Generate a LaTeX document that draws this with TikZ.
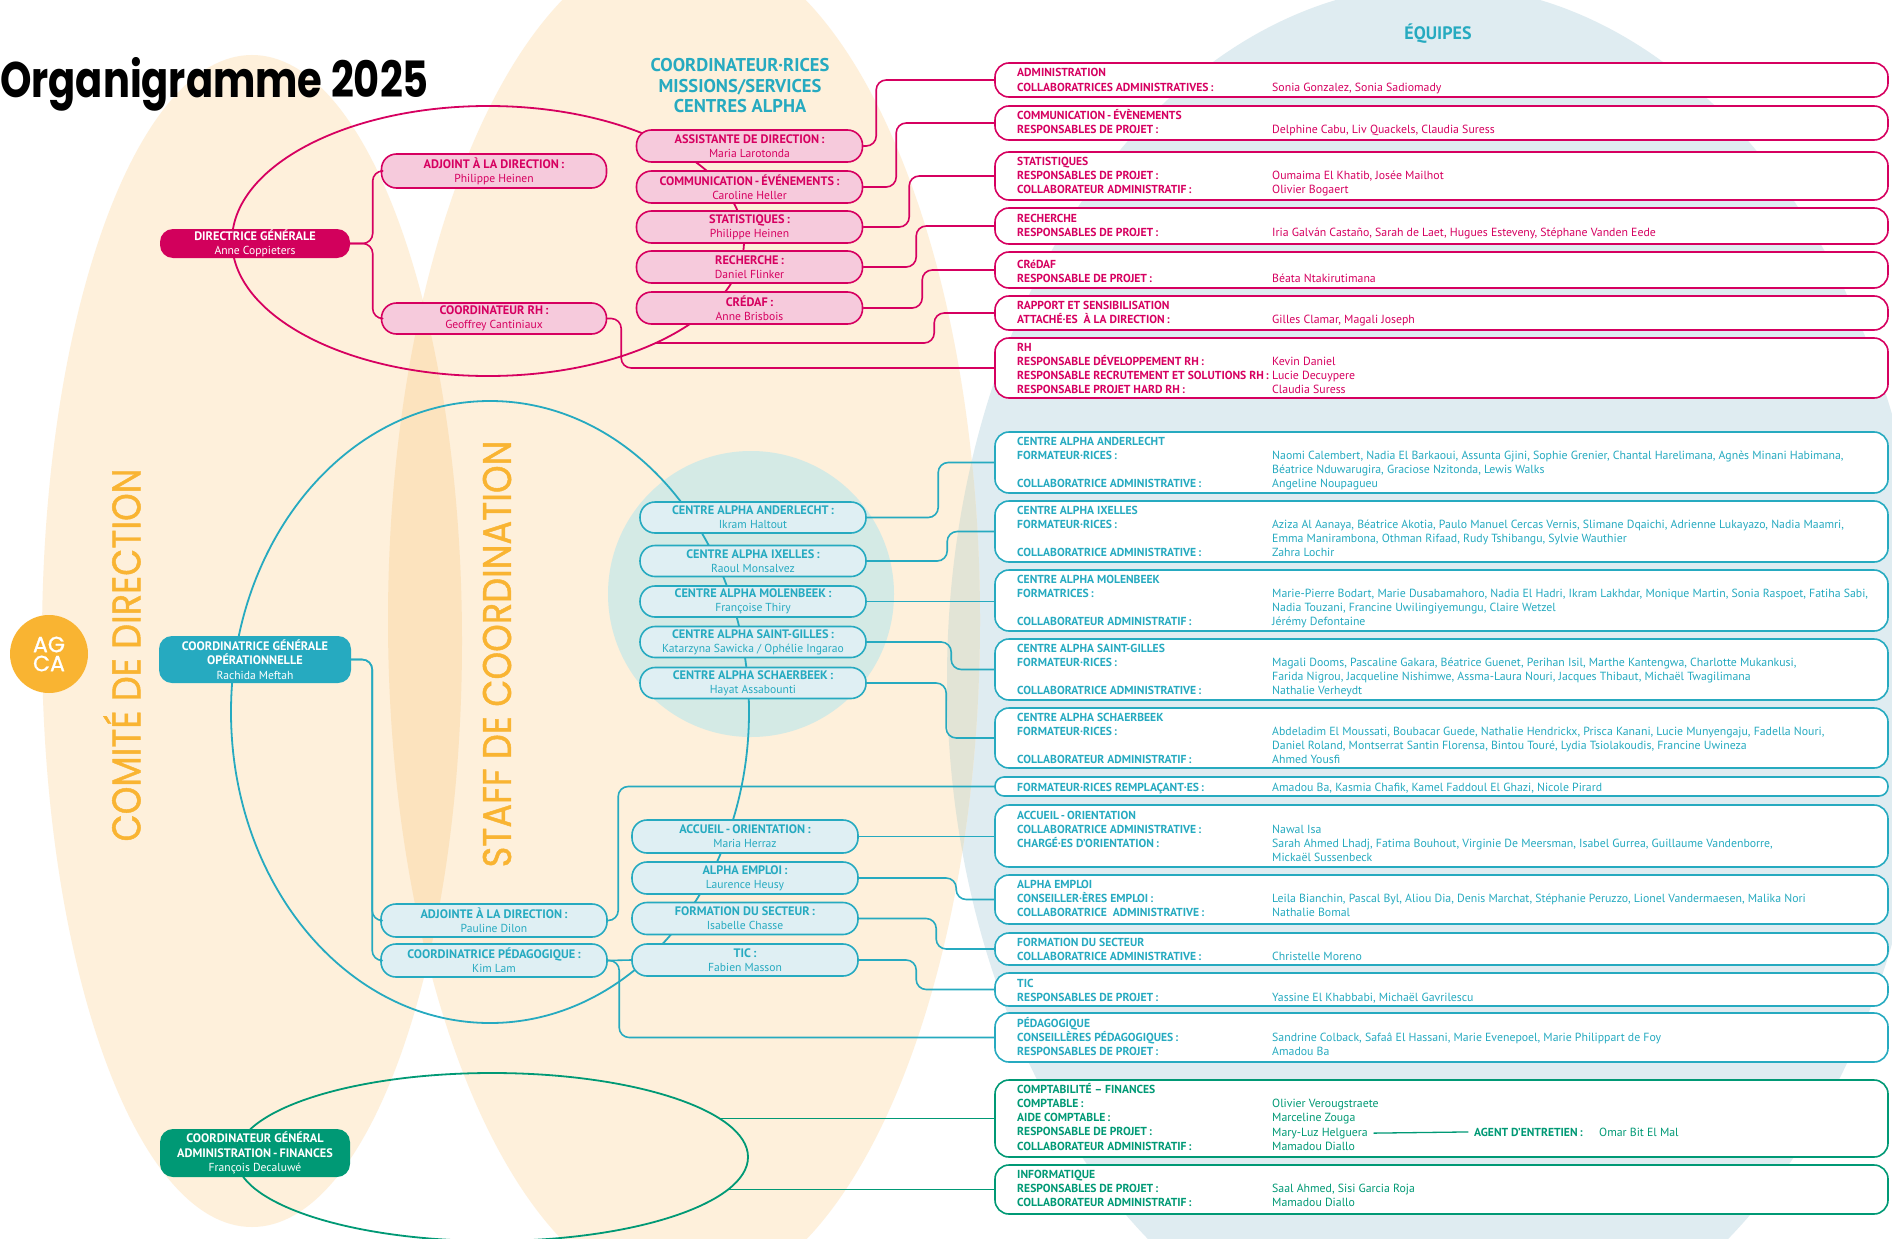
\documentclass[tikz,border=0pt]{standalone}
\usepackage{fontspec}
\usepackage{array}
\usepackage{graphicx}
\setmainfont{PT Sans}
\newfontfamily\popfont{Poppins}
\newfontfamily\popfontb{Poppins}[FakeBold=1.2]
\usetikzlibrary{calc}
\definecolor{mag}{RGB}{214,0,96}
\definecolor{magdark}{RGB}{210,0,92}
\definecolor{pinkfill}{RGB}{246,202,220}
\definecolor{tealc}{RGB}{38,170,192}
\definecolor{tealfill}{RGB}{223,239,243}
\definecolor{greenc}{RGB}{0,153,117}
\definecolor{orangec}{RGB}{249,180,50}
\definecolor{beige}{RGB}{254,240,219}
\definecolor{beigetwo}{RGB}{252,227,190}
\definecolor{bluebg}{RGB}{223,236,241}
\definecolor{overlapc}{RGB}{226,228,214}
\definecolor{mint}{RGB}{212,234,229}
\newcolumntype{L}{>{\fontsize{11.6}{14.3}\selectfont\bfseries}w{l}{255pt}}
\newcolumntype{N}{>{\fontsize{11.8}{14.3}\selectfont}l}
\newcommand{\tabx}[1]{\begin{tabular}[t]{@{}L@{}N@{}}#1\end{tabular}}
\newcommand{\lbl}[1]{{\fontsize{12.3}{14}\selectfont\bfseries #1}}
\begin{document}
\begin{tikzpicture}[x=1pt,y=-1pt,line cap=round,line join=round,
  midn/.style={draw=#1, line width=1.6, rounded corners=15, minimum width=226, minimum height=32, inner sep=0, align=center, text=#1, font=\fontsize{11.6}{14}\selectfont},
  topn/.style={rounded corners=13, minimum width=190, inner sep=0, align=center, text=white, font=\fontsize{11.6}{14.5}\selectfont},
  teamb/.style={draw=#1, fill=white, line width=1.6, rounded corners=14, minimum width=893, inner sep=0},
  tt/.style={anchor=base west, inner sep=0, text=#1, font=\fontsize{11}{14.3}\selectfont},
  conn/.style={draw=#1, line width=1.6, rounded corners=10},
  ell/.style={draw=#1, line width=1.8}]
\useasboundingbox (0,0) rectangle (1892,1239);
\fill[white] (0,0) rectangle (1892,1239);
% backgrounds
\fill[bluebg] (1438,679) ellipse [x radius=491, y radius=694];
\fill[beige] (252,641) ellipse [x radius=210, y radius=586];
\fill[beige] (684,620) ellipse [x radius=296, y radius=680];
\begin{scope}
\clip (252,641) ellipse [x radius=210, y radius=586];
\fill[beigetwo] (684,620) ellipse [x radius=296, y radius=680];
\end{scope}
\begin{scope}
\clip (684,620) ellipse [x radius=296, y radius=680];
\fill[overlapc] (1438,679) ellipse [x radius=491, y radius=694];
\end{scope}
\fill[mint] (751,594) circle [radius=143];
% titles
\node[anchor=base west, inner sep=0] (title) at (0,97) {\scalebox{0.8}[1]{\popfont\bfseries\fontsize{50}{55}\selectfont Organigramme 2025}};
\node[text=tealc, align=center, font=\fontsize{18.5}{20.5}\selectfont\bfseries] (hdr) at (740,86) {COORDINATEUR·RICES\\MISSIONS/SERVICES\\CENTRES ALPHA};
\node[text=tealc, font=\fontsize{18}{20}\selectfont\bfseries] (equipes) at (1438,34) {ÉQUIPES};
\node[rotate=90, text=orangec, inner sep=0, font=\popfontb\fontsize{40}{40}\selectfont] (comite) at (122,655) {\scalebox{0.88}[1]{COMITÉ DE DIRECTION}};
\node[rotate=90, text=orangec, inner sep=0, font=\popfontb\fontsize{40}{40}\selectfont] (staff) at (497,654) {\scalebox{0.88}[1]{STAFF DE COORDINATION}};
\node[circle, fill=orangec, minimum size=78, inner sep=0, text=white, align=center, font=\popfontb\fontsize{22}{19}\selectfont] (agca) at (49,654) {AG\\CA};
% group ellipses
\draw[ell=mag] (488,241) ellipse [x radius=256, y radius=135];
\draw[ell=tealc] (490,712) ellipse [x radius=259, y radius=311];
\draw[ell=greenc] (492,1157) ellipse [x radius=256, y radius=84];
\coordinate (pe) at (656,343);
\coordinate (ge1) at (719.5,1118.5);
\coordinate (ge2) at (728,1189.5);
% team boxes
\node[teamb=mag, minimum height=34] (tAdmin) at (1441.5,80) {};
\node[teamb=mag, minimum height=34] (tComm) at (1441.5,123) {};
\node[teamb=mag, minimum height=48] (tStat) at (1441.5,176) {};
\node[teamb=mag, minimum height=36] (tRech) at (1441.5,226) {};
\node[teamb=mag, minimum height=36] (tCred) at (1441.5,270) {};
\node[teamb=mag, minimum height=34] (tRap) at (1441.5,313) {};
\node[teamb=mag, minimum height=60] (tRH) at (1441.5,368) {};
\node[teamb=tealc, minimum height=61] (tAnd) at (1441.5,462.5) {};
\node[teamb=tealc, minimum height=61] (tIx) at (1441.5,531.5) {};
\node[teamb=tealc, minimum height=61] (tMol) at (1441.5,600.5) {};
\node[teamb=tealc, minimum height=61] (tSG) at (1441.5,669.5) {};
\node[teamb=tealc, minimum height=60] (tSch) at (1441.5,738) {};
\node[teamb=tealc, minimum height=19, rounded corners=9] (tRem) at (1441.5,786.5) {};
\node[teamb=tealc, minimum height=62] (tAcc) at (1441.5,836) {};
\node[teamb=tealc, minimum height=49] (tEmp) at (1441.5,899.5) {};
\node[teamb=tealc, minimum height=32] (tForm) at (1441.5,949) {};
\node[teamb=tealc, minimum height=33] (tTic) at (1441.5,989.5) {};
\node[teamb=tealc, minimum height=49] (tPed) at (1441.5,1037.5) {};
\node[teamb=greenc, minimum height=77] (tCompta) at (1441.5,1118.5) {};
\node[teamb=greenc, minimum height=49] (tInfo) at (1441.5,1189.5) {};
% nodes
\node[topn, fill=magdark, minimum height=29] (dg) at (255,243.5) {\lbl{DIRECTRICE GÉNÉRALE}\\Anne Coppieters};
\node[midn=mag, fill=pinkfill, minimum width=225, minimum height=34] (adj) at (494,171) {\lbl{ADJOINT À LA DIRECTION\,:}\\Philippe Heinen};
\node[midn=mag, fill=pinkfill, minimum width=225, minimum height=31] (crh) at (494,318.5) {\lbl{COORDINATEUR RH\,:}\\Geoffrey Cantiniaux};
\node[midn=mag, fill=pinkfill] (assist) at (749.5,146) {\lbl{ASSISTANTE DE DIRECTION\,:}\\Maria Larotonda};
\node[midn=mag, fill=pinkfill] (comm) at (749.5,187) {\lbl{COMMUNICATION\,-\,ÉVÉNEMENTS\,:}\\Caroline Heller};
\node[midn=mag, fill=pinkfill] (stat) at (749.5,227) {\lbl{STATISTIQUES\,:}\\Philippe Heinen};
\node[midn=mag, fill=pinkfill] (rech) at (749.5,267) {\lbl{RECHERCHE\,:}\\Daniel Flinker};
\node[midn=mag, fill=pinkfill] (cred) at (749.5,308) {\lbl{CRÉDAF\,:}\\Anne Brisbois};
\node[topn, fill=tealc, minimum width=192, minimum height=47] (cgo) at (255,659.5) {\lbl{COORDINATRICE GÉNÉRALE}\\\lbl{OPÉRATIONNELLE}\\Rachida Meftah};
\node[midn=tealc, fill=tealfill, minimum height=33] (adjte) at (494,920.5) {\lbl{ADJOINTE À LA DIRECTION\,:}\\Pauline Dilon};
\node[midn=tealc, fill=tealfill, minimum height=33] (cped) at (494,960.5) {\lbl{COORDINATRICE PÉDAGOGIQUE\,:}\\Kim Lam};
\node[midn=tealc, fill=tealfill, minimum height=31] (cAnd) at (753,517.5) {\lbl{CENTRE ALPHA ANDERLECHT\,:}\\Ikram Haltout};
\node[midn=tealc, fill=tealfill, minimum height=31] (cIx) at (753,561) {\lbl{CENTRE ALPHA IXELLES\,:}\\Raoul Monsalvez};
\node[midn=tealc, fill=tealfill, minimum height=31] (cMol) at (753,601.5) {\lbl{CENTRE ALPHA MOLENBEEK\,:}\\Françoise Thiry};
\node[midn=tealc, fill=tealfill, minimum height=31] (cSG) at (753,642) {\lbl{CENTRE ALPHA SAINT-GILLES\,:}\\Katarzyna Sawicka / Ophélie Ingarao};
\node[midn=tealc, fill=tealfill, minimum height=31] (cSch) at (753,683) {\lbl{CENTRE ALPHA SCHAERBEEK\,:}\\Hayat Assabounti};
\node[midn=tealc, fill=tealfill, minimum height=33] (acc) at (745,836.5) {\lbl{ACCUEIL\,-\,ORIENTATION\,:}\\Maria Herraz};
\node[midn=tealc, fill=tealfill, minimum height=32] (emp) at (745,878) {\lbl{ALPHA EMPLOI\,:}\\Laurence Heusy};
\node[midn=tealc, fill=tealfill, minimum height=32] (form) at (745,918.5) {\lbl{FORMATION DU SECTEUR\,:}\\Isabelle Chasse};
\node[midn=tealc, fill=tealfill, minimum height=32] (tic) at (745,960) {\lbl{TIC\,:}\\Fabien Masson};
\node[topn, fill=greenc, minimum height=48] (cgaf) at (255,1153) {\lbl{COORDINATEUR GÉNÉRAL}\\\lbl{ADMINISTRATION\,-\,FINANCES}\\François Decaluwé};
% connectors pink
\draw[conn=mag] (dg.east) -| ([xshift=-8]adj.west) -- (adj.west);
\draw[conn=mag] (dg.east) -| ([xshift=-8]crh.west) -- (crh.west);
\draw[conn=mag] (assist.east) -| ([xshift=-118]tAdmin.west) -- (tAdmin.west);
\draw[conn=mag] (comm.east) -| ([xshift=-98]tComm.west) -- (tComm.west);
\draw[conn=mag] (stat.east) -| ([xshift=-85]tStat.west) -- (tStat.west);
\draw[conn=mag] (rech.east) -| ([xshift=-78]tRech.west) -- (tRech.west);
\draw[conn=mag] (cred.east) -| ([xshift=-72]tCred.west) -- (tCred.west);
\draw[conn=mag] (pe) -| ([xshift=-60]tRap.west) -- (tRap.west);
\draw[conn=mag] (crh.east) -| ([xshift=-373]tRH.west) -- (tRH.west);
% connectors teal
\draw[conn=tealc] (cgo.east) -| ([xshift=-8]adjte.west) -- (adjte.west);
\draw[conn=tealc] (cgo.east) -| ([xshift=-8]cped.west) -- (cped.west);
\draw[conn=tealc] (cAnd.east) -| ([xshift=-56]tAnd.west) -- (tAnd.west);
\draw[conn=tealc] (cIx.east) -| ([xshift=-47]tIx.west) -- (tIx.west);
\draw[conn=tealc] (cMol.east) -- (cMol.east -| tMol.west);
\draw[conn=tealc] (cSG.east) -| ([xshift=-43]tSG.west) -- (tSG.west);
\draw[conn=tealc] (cSch.east) -| ([xshift=-48]tSch.west) -- (tSch.west);
\draw[conn=tealc] (adjte.east) -| ([xshift=-376]tRem.west) -- (tRem.west);
\draw[conn=tealc] (acc.east) -- (acc.east -| tAcc.west);
\draw[conn=tealc] (emp.east) -| ([xshift=-38]tEmp.west) -- (tEmp.west);
\draw[conn=tealc] (form.east) -| ([xshift=-58]tForm.west) -- (tForm.west);
\draw[conn=tealc] (tic.east) -| ([xshift=-78]tTic.west) -- (tTic.west);
\draw[conn=tealc] (cped.east) -- (tic.west);
\draw[conn=tealc] (cped.east) -| ([xshift=-375]tPed.west) -- (tPed.west);
% connectors green
\draw[conn=greenc] (ge1) -- (ge1 -| tCompta.west);
\draw[conn=greenc] (ge2) -- (ge2 -| tInfo.west);
% team texts pink
\node[tt=mag] (xAdmin) at (1017,77) {\tabx{ADMINISTRATION\\COLLABORATRICES ADMINISTRATIVES\,: & Sonia Gonzalez, Sonia Sadiomady}};
\node[tt=mag] (xComm) at (1017,119) {\tabx{COMMUNICATION\,-\,ÉVÈNEMENTS\\RESPONSABLES DE PROJET\,: & Delphine Cabu, Liv Quackels, Claudia Suress}};
\node[tt=mag] (xStat) at (1017,165) {\tabx{STATISTIQUES\\RESPONSABLES DE PROJET\,: & Oumaima El Khatib, Josée Mailhot\\COLLABORATEUR ADMINISTRATIF\,: & Olivier Bogaert}};
\node[tt=mag] (xRech) at (1017,222) {\tabx{RECHERCHE\\RESPONSABLES DE PROJET\,: & Iria Galván Castaño, Sarah de Laet, Hugues Esteveny, Stéphane Vanden Eede}};
\node[tt=mag] (xCred) at (1017,268) {\tabx{CRéDAF\\RESPONSABLE DE PROJET\,: & Béata Ntakirutimana}};
\node[tt=mag] (xRap) at (1017,309) {\tabx{RAPPORT ET SENSIBILISATION\\ATTACHÉ·ES\ \ À LA DIRECTION\,: & Gilles Clamar, Magali Joseph}};
\node[tt=mag] (xRH) at (1017,351) {\tabx{RH\\RESPONSABLE DÉVELOPPEMENT RH\,: & Kevin Daniel\\RESPONSABLE RECRUTEMENT ET SOLUTIONS RH\,: & Lucie Decuypere\\RESPONSABLE PROJET HARD RH\,: & Claudia Suress}};
% team texts teal
\node[tt=tealc] (xAnd) at (1017,445) {\tabx{CENTRE ALPHA ANDERLECHT\\FORMATEUR·RICES\,: & Naomi Calembert, Nadia El Barkaoui, Assunta Gjini, Sophie Grenier, Chantal Harelimana, Agnès Minani Habimana,\\ & Béatrice Nduwarugira, Graciose Nzitonda, Lewis Walks\\COLLABORATRICE ADMINISTRATIVE\,: & Angeline Noupagueu}};
\node[tt=tealc] (xIx) at (1017,514) {\tabx{CENTRE ALPHA IXELLES\\FORMATEUR·RICES\,: & Aziza Al Aanaya, Béatrice Akotia, Paulo Manuel Cercas Vernis, Slimane Dqaichi, Adrienne Lukayazo, Nadia Maamri,\\ & Emma Manirambona, Othman Rifaad, Rudy Tshibangu, Sylvie Wauthier\\COLLABORATRICE ADMINISTRATIVE\,: & Zahra Lochir}};
\node[tt=tealc] (xMol) at (1017,583) {\tabx{CENTRE ALPHA MOLENBEEK\\FORMATRICES\,: & Marie-Pierre Bodart, Marie Dusabamahoro, Nadia El Hadri, Ikram Lakhdar, Monique Martin, Sonia Raspoet, Fatiha Sabi,\\ & Nadia Touzani, Francine Uwilingiyemungu, Claire Wetzel\\COLLABORATEUR ADMINISTRATIF\,: & Jérémy Defontaine}};
\node[tt=tealc] (xSG) at (1017,652) {\tabx{CENTRE ALPHA SAINT-GILLES\\FORMATEUR·RICES\,: & Magali Dooms, Pascaline Gakara, Béatrice Guenet, Perihan Isil, Marthe Kantengwa, Charlotte Mukankusi,\\ & Farida Nigrou, Jacqueline Nishimwe, Assma-Laura Nouri, Jacques Thibaut, Michaël Twagilimana\\COLLABORATRICE ADMINISTRATIVE\,: & Nathalie Verheydt}};
\node[tt=tealc] (xSch) at (1017,721) {\tabx{CENTRE ALPHA SCHAERBEEK\\FORMATEUR·RICES\,: & Abdeladim El Moussati, Boubacar Guede, Nathalie Hendrickx, Prisca Kanani, Lucie Munyengaju, Fadella Nouri,\\ & Daniel Roland, Montserrat Santin Florensa, Bintou Touré, Lydia Tsiolakoudis, Francine Uwineza\\COLLABORATEUR ADMINISTRATIF\,: & Ahmed Yousfi}};
\node[tt=tealc] (xRem) at (1017,791) {\tabx{FORMATEUR·RICES REMPLAÇANT·ES\,: & Amadou Ba, Kasmia Chafik, Kamel Faddoul El Ghazi, Nicole Pirard}};
\node[tt=tealc] (xAcc) at (1017,819) {\tabx{ACCUEIL\,-\,ORIENTATION\\COLLABORATRICE ADMINISTRATIVE\,: & Nawal Isa\\CHARGÉ·ES D’ORIENTATION\,: & Sarah Ahmed Lhadj, Fatima Bouhout, Virginie De Meersman, Isabel Gurrea, Guillaume Vandenborre,\\ & Mickaël Sussenbeck}};
\node[tt=tealc] (xEmp) at (1017,888) {\tabx{ALPHA EMPLOI\\CONSEILLER·ÈRES EMPLOI\,: & Leila Bianchin, Pascal Byl, Aliou Dia, Denis Marchat, Stéphanie Peruzzo, Lionel Vandermaesen, Malika Nori\\COLLABORATRICE\ \ ADMINISTRATIVE\,: & Nathalie Bomal}};
\node[tt=tealc] (xForm) at (1017,946) {\tabx{FORMATION DU SECTEUR\\COLLABORATRICE ADMINISTRATIVE\,: & Christelle Moreno}};
\node[tt=tealc] (xTic) at (1017,987) {\tabx{TIC\\RESPONSABLES DE PROJET\,: & Yassine El Khabbabi, Michaël Gavrilescu}};
\node[tt=tealc] (xPed) at (1017,1027) {\tabx{PÉDAGOGIQUE\\CONSEILLÈRES PÉDAGOGIQUES\,: & Sandrine Colback, Safaâ El Hassani, Marie Evenepoel, Marie Philippart de Foy\\RESPONSABLES DE PROJET\,: & Amadou Ba}};
% team texts green
\node[tt=greenc] (xCompta) at (1017,1093) {\tabx{COMPTABILITÉ – FINANCES\\COMPTABLE\,: & Olivier Verougstraete\\AIDE COMPTABLE\,: & Marceline Zouga\\RESPONSABLE DE PROJET\,: & \\COLLABORATEUR ADMINISTRATIF\,: & Mamadou Diallo}};
\node[tt=greenc, font=\fontsize{11.8}{14.3}\selectfont] (mlh) at (1272,1136) {Mary-Luz Helguera};
\node[tt=greenc, font=\fontsize{11.6}{14.3}\selectfont\bfseries] (agent) at (1474,1136) {AGENT D’ENTRETIEN\,:};
\node[tt=greenc, font=\fontsize{11.8}{14.3}\selectfont] (omar) at (1599,1136) {Omar Bit El Mal};
\draw[greenc, line width=1.3] ([xshift=6]mlh.east) -- ([xshift=-6]agent.west);
\node[tt=greenc] (xInfo) at (1017,1178) {\tabx{INFORMATIQUE\\RESPONSABLES DE PROJET\,: & Saal Ahmed, Sisi Garcia Roja\\COLLABORATEUR ADMINISTRATIF\,: & Mamadou Diallo}};
\end{tikzpicture}
\end{document}
